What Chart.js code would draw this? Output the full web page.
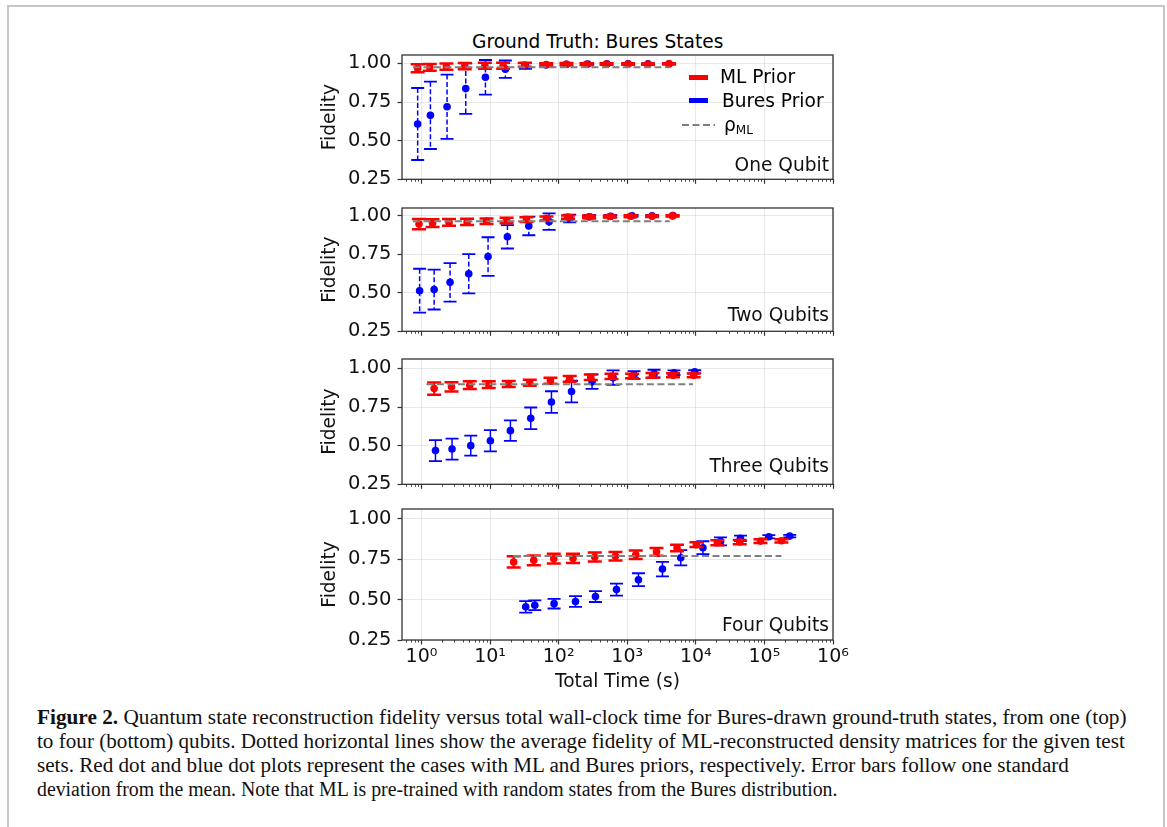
<!DOCTYPE html>
<html>
<head>
<meta charset="utf-8">
<script src="https://cdn.jsdelivr.net/npm/chart.js@4.4.1/dist/chart.umd.min.js"></script>
<style>
  body { margin: 0; background: #fff; width: 1167px; height: 827px; overflow: hidden; position: relative; }
  #frame { position: absolute; left: 7px; top: 5px; width: 1154px; height: 900px; border: 2px solid #c6c6c6; border-bottom: none; }
  canvas { position: absolute; left: 300px; }
  .txt { position: absolute; font-family: "DejaVu Sans"; font-size: 18.6px; line-height: 20px; color: #000; white-space: nowrap; }
  .sw { position: absolute; width: 19px; height: 5px; }
  #caption { position: absolute; left: 37px; top: 705px; font-family: "Liberation Serif"; font-size: 20px; line-height: 24px; color: #111; white-space: nowrap; }
  #caption span { display: block; transform-origin: 0 0; }
  sub { font-size: 12px; vertical-align: -3px; }
</style>
</head>
<body>
<div id="frame"></div>
<div class="txt" style="left:472px; top:32px;">Ground Truth: Bures States</div>

<canvas id="c1" width="560" height="162"></canvas>
<canvas id="c2" width="560" height="161"></canvas>
<canvas id="c3" width="560" height="163"></canvas>
<canvas id="c4" width="560" height="216"></canvas>

<div class="sw" style="left:689px; top:75px; background:#ff0000;"></div>
<div class="txt" style="left:720px; top:67px;">ML Prior</div>
<div class="sw" style="left:689px; top:98px; background:#0000ff;"></div>
<div class="txt" style="left:722px; top:91px;">Bures Prior</div>
<svg style="position:absolute; left:680px; top:120px;" width="40" height="10">
  <line x1="2" y1="5" x2="35" y2="5" stroke="#808080" stroke-width="2" stroke-dasharray="7 3.5"/>
</svg>
<div class="txt" style="left:724px; top:115px;">ρ<sub>ML</sub></div>

<div id="caption">
<span style="transform:scaleX(1.063)"><b>Figure 2.</b> Quantum state reconstruction fidelity versus total wall-clock time for Bures-drawn ground-truth states, from one (top)</span>
<span style="transform:scaleX(1.057)">to four (bottom) qubits. Dotted horizontal lines show the average fidelity of ML-reconstructed density matrices for the given test</span>
<span style="transform:scaleX(1.056)">sets. Red dot and blue dot plots represent the cases with ML and Bures priors, respectively. Error bars follow one standard</span>
<span style="transform:scaleX(0.99)">deviation from the mean. Note that ML is pre-trained with random states from the Bures distribution.</span>
</div>

<script>
// ---- data ----
const xTickLabels = ['10⁰', '10¹', '10²', '10³', '10⁴', '10⁵', '10⁶'];
const yTickValues = [0.25, 0.5, 0.75, 1.0];
const panelLabels = ['One Qubit', 'Two Qubits', 'Three Qubits', 'Four Qubits'];

// one qubit
const p1RedTime = [0.88, 1.32, 2.31, 4.27, 8.4, 15.5, 32, 66, 130, 254, 498, 1030, 2010, 4070];
const p1RedFid  = [0.969, 0.975, 0.979, 0.983, 0.985, 0.985, 0.990, 0.993, 0.995, 0.995, 0.996, 0.996, 0.996, 0.997];
const p1RedErr  = [0.026, 0.022, 0.02, 0.02, 0.02, 0.02, 0.012, 0.008, 0.007, 0.006, 0.005, 0.005, 0.004, 0.004];
const p1BlueTime = [0.88, 1.35, 2.36, 4.42, 8.56, 16.7, 32.8, 65, 130, 265, 505, 1030, 2010, 4070];
const p1BlueFid  = [0.608, 0.664, 0.72, 0.837, 0.91, 0.963, 0.985, 0.99, 0.995, 0.996, 0.997, 0.997, 0.997, 0.998];
const p1BlueErr  = [0.233, 0.218, 0.208, 0.163, 0.112, 0.056, 0.02, 0.01, 0.008, 0.006, 0.005, 0.004, 0.003, 0.003];
const p1MlTime = [0.75, 4170];
const p1MlFid = 0.975;

// two qubits
const p2RedTime = [0.92, 1.45, 2.52, 4.62, 8.88, 17.4, 33.9, 66.4, 137, 277, 556, 1114, 2300, 4560];
const p2RedFid  = [0.944, 0.950, 0.955, 0.958, 0.963, 0.967, 0.973, 0.981, 0.989, 0.991, 0.993, 0.995, 0.995, 0.997];
const p2RedErr  = [0.033, 0.025, 0.022, 0.02, 0.018, 0.018, 0.015, 0.013, 0.01, 0.008, 0.007, 0.006, 0.005, 0.004];
const p2BlueTime = [0.94, 1.53, 2.61, 4.89, 9.35, 17.9, 36.7, 72.5, 145, 284, 575, 1175, 2300, 4650];
const p2BlueFid  = [0.513, 0.52, 0.567, 0.623, 0.734, 0.862, 0.932, 0.96, 0.98, 0.992, 0.995, 0.998, 0.998, 0.999];
const p2BlueErr  = [0.142, 0.129, 0.125, 0.127, 0.125, 0.076, 0.06, 0.053, 0.025, 0.012, 0.008, 0.006, 0.005, 0.004];
const p2MlTime = [0.75, 4170];
const p2MlFid = 0.963;

// three qubits
const p3RedTime = [1.53, 2.74, 5.06, 9.57, 18.7, 37.9, 75.9, 145, 294, 589, 1175, 2330, 4650, 9310];
const p3RedFid  = [0.869, 0.881, 0.891, 0.895, 0.899, 0.907, 0.920, 0.932, 0.943, 0.949, 0.951, 0.955, 0.955, 0.955];
const p3RedErr  = [0.04, 0.03, 0.025, 0.022, 0.02, 0.02, 0.02, 0.018, 0.018, 0.017, 0.015, 0.015, 0.013, 0.012];
const p3BlueTime = [1.6, 2.79, 5.23, 10.1, 19.8, 39.2, 78.5, 154, 307, 621, 1256, 2460, 4810, 9640];
const p3BlueFid  = [0.468, 0.478, 0.5, 0.532, 0.597, 0.677, 0.782, 0.85, 0.914, 0.94, 0.957, 0.966, 0.972, 0.978];
const p3BlueErr  = [0.068, 0.068, 0.065, 0.069, 0.066, 0.07, 0.07, 0.07, 0.047, 0.047, 0.025, 0.025, 0.015, 0.01];
const p3MlTime = [1.18, 9100];
const p3MlFid = 0.897;

// four qubits
const p4RedTime = [22.1, 43.4, 84.9, 162, 336, 673, 1330, 2670, 5320, 10200, 20600, 43700, 87500, 177000];
const p4RedFid  = [0.733, 0.743, 0.753, 0.755, 0.764, 0.768, 0.778, 0.796, 0.819, 0.840, 0.852, 0.856, 0.862, 0.864];
const p4RedErr  = [0.035, 0.03, 0.03, 0.028, 0.028, 0.026, 0.026, 0.024, 0.02, 0.015, 0.015, 0.013, 0.012, 0.01];
const p4BlueTime = [33.1, 44.9, 85.7, 176, 344, 697, 1456, 3260, 6030, 12700, 22900, 44700, 116000, 234000];
const p4BlueFid  = [0.455, 0.465, 0.475, 0.488, 0.519, 0.562, 0.623, 0.689, 0.759, 0.821, 0.860, 0.879, 0.889, 0.893];
const p4BlueErr  = [0.036, 0.03, 0.03, 0.033, 0.034, 0.037, 0.04, 0.045, 0.047, 0.04, 0.025, 0.017, 0.01, 0.008];
const p4MlTime = [21.6, 177000];
const p4MlFid = 0.770;

// ---- drawing ----
Chart.defaults.font.family = 'DejaVu Sans';
Chart.defaults.font.size = 18.6;
Chart.defaults.color = '#111';

const RED = '#ff0000', BLUE = '#0000ff', SPINE = '#333';
const GRID = 'rgba(0,0,0,0.09)';

// matplotlib style error bars, drawn just before each dataset's markers
const errorBars = {
  id: 'errorBars',
  beforeDatasetDraw(chart, args) {
    const ds = chart.data.datasets[args.index];
    if (!ds.err) return;
    const ctx = chart.ctx, x = chart.scales.x, y = chart.scales.y;
    ctx.save();
    ctx.strokeStyle = ds.backgroundColor;
    ds.data.forEach((p, i) => {
      const px = x.getPixelForValue(p.x);
      const top = y.getPixelForValue(p.y + ds.err[i]);
      const bot = y.getPixelForValue(p.y - ds.err[i]);
      ctx.lineWidth = ds.errWidth;
      ctx.setLineDash(ds.errDash || []);
      ctx.beginPath();
      ctx.moveTo(px, top);
      ctx.lineTo(px, bot);
      ctx.stroke();
      ctx.setLineDash([]);
      ctx.lineWidth = ds.capWidth;
      ctx.beginPath();
      ctx.moveTo(px - ds.capSize, top); ctx.lineTo(px + ds.capSize, top);
      ctx.moveTo(px - ds.capSize, bot); ctx.lineTo(px + ds.capSize, bot);
      ctx.stroke();
    });
    ctx.restore();
  }
};

// box spines, minor log ticks and the panel name
const frameBits = {
  id: 'frameBits',
  afterDraw(chart, args, opts) {
    const {ctx, chartArea: a} = chart;
    const x = chart.scales.x;
    ctx.save();
    ctx.strokeStyle = SPINE;
    ctx.lineWidth = 1.3;
    ctx.strokeRect(a.left, a.top, a.right - a.left, a.bottom - a.top);
    ctx.lineWidth = 0.9;
    ctx.beginPath();
    for (let e = -1; e <= 5; e++) {
      for (let m = 2; m <= 9; m++) {
        const v = m * Math.pow(10, e);
        if (v < x.min || v > x.max) continue;
        const px = Math.round(x.getPixelForValue(v)) + 0.5;
        ctx.moveTo(px, a.bottom);
        ctx.lineTo(px, a.bottom + 2.5);
      }
    }
    ctx.stroke();
    ctx.fillStyle = '#111';
    ctx.font = '18.6px "DejaVu Sans"';
    ctx.textAlign = 'right';
    ctx.textBaseline = 'alphabetic';
    ctx.fillText(opts.text, a.right - 4, a.bottom - opts.lift);
    ctx.restore();
  }
};

function points(xs, ys) {
  return xs.map((v, i) => ({x: v, y: ys[i]}));
}

function makePanel(id, top, h, red, blue, ml, label, lift, dashedBlue, bottom) {
  const cv = document.getElementById(id);
  const below = bottom ? 60 : 12;
  cv.style.top = (top - 20) + 'px';
  cv.width = 560;
  cv.height = 20 + h + below;
  return new Chart(cv, {
    type: 'scatter',
    data: {
      datasets: [
        {
          type: 'line', data: [{x: ml[0][0], y: ml[1]}, {x: ml[0][1], y: ml[1]}],
          borderColor: '#808080', borderWidth: 2, borderDash: [7, 3.5], pointRadius: 0, fill: false
        },
        {
          data: points(red[0], red[1]), err: red[2], backgroundColor: RED, borderWidth: 0,
          pointRadius: 3.8, errWidth: 2, capWidth: 2.5, capSize: 7
        },
        {
          data: points(blue[0], blue[1]), err: blue[2], backgroundColor: BLUE, borderWidth: 0,
          pointRadius: 3.8, errWidth: 1.5, capWidth: 1.8, capSize: 6.5,
          errDash: dashedBlue ? [5, 2.5] : null
        }
      ]
    },
    options: {
      responsive: false,
      animation: false,
      events: [],
      layout: {padding: {top: 20, right: 27, bottom: bottom ? 5 : 2, left: 0}},
      plugins: {
        legend: {display: false},
        tooltip: {enabled: false},
        frameBits: {text: label, lift: lift}
      },
      scales: {
        x: {
          type: 'logarithmic', min: 0.52, max: 1e6,
          afterBuildTicks: s => { s.ticks = xTickLabels.map((t, i) => ({value: Math.pow(10, i)})); },
          afterFit: s => { s.height = bottom ? 55 : 10; },
          border: {display: false},
          grid: {color: GRID, lineWidth: 1, tickLength: 4.5, tickColor: SPINE, tickWidth: 1.2},
          ticks: {
            display: bottom, autoSkip: false, maxRotation: 0, minRotation: 0, padding: 1,
            color: '#111', font: {size: 19},
            callback: (v, i) => xTickLabels[i]
          },
          title: {display: bottom, text: 'Total Time (s)', color: '#111', padding: {top: 0, bottom: 2}}
        },
        y: {
          min: 0.25, max: 0.25 + h * 0.25 / 40.4,
          afterBuildTicks: s => { s.ticks = yTickValues.map(v => ({value: v})); },
          afterFit: s => { s.width = 102; },
          border: {display: false},
          grid: {color: GRID, lineWidth: 1, tickLength: 4.5, tickColor: SPINE, tickWidth: 1.2},
          ticks: {padding: 6, color: '#111', font: {size: 19.5}, callback: v => v.toFixed(2)},
          title: {display: true, text: 'Fidelity', color: '#111', padding: {top: 19, bottom: 0}}
        }
      }
    },
    plugins: [errorBars, frameBits]
  });
}

makePanel('c1', 55, 130,
  [p1RedTime, p1RedFid, p1RedErr], [p1BlueTime, p1BlueFid, p1BlueErr], [p1MlTime, p1MlFid],
  panelLabels[0], 8, true, false);
makePanel('c2', 208, 129,
  [p2RedTime, p2RedFid, p2RedErr], [p2BlueTime, p2BlueFid, p2BlueErr], [p2MlTime, p2MlFid],
  panelLabels[1], 10, true, false);
makePanel('c3', 359, 131,
  [p3RedTime, p3RedFid, p3RedErr], [p3BlueTime, p3BlueFid, p3BlueErr], [p3MlTime, p3MlFid],
  panelLabels[2], 12.5, false, false);
makePanel('c4', 509, 131,
  [p4RedTime, p4RedFid, p4RedErr], [p4BlueTime, p4BlueFid, p4BlueErr], [p4MlTime, p4MlFid],
  panelLabels[3], 9, false, true);
</script>
</body>
</html>
